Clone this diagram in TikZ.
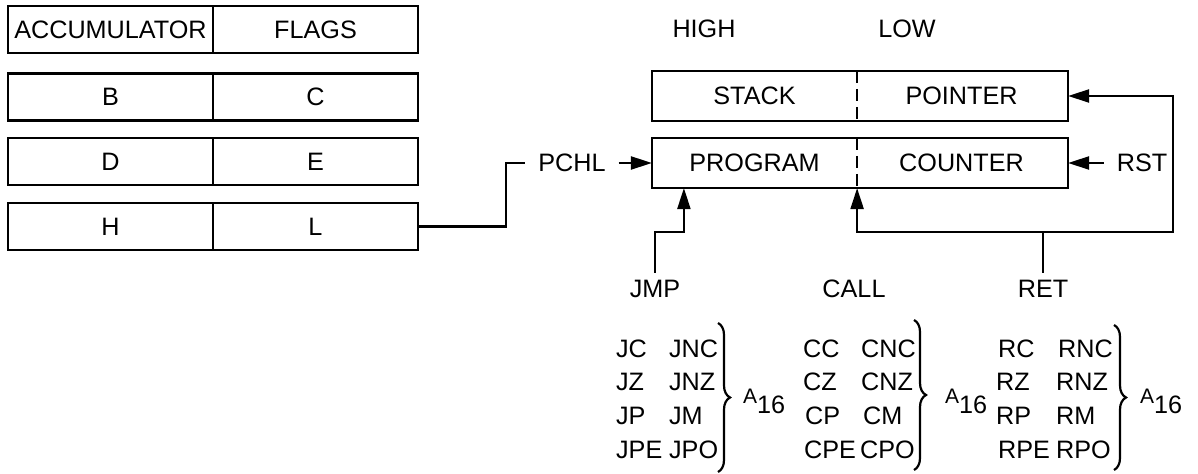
\documentclass[tikz,border=0pt]{standalone}
\usepackage{fontspec}
\setmainfont{Liberation Sans}
\usetikzlibrary{arrows.meta,decorations.pathreplacing,calc}
\begin{document}
\begin{tikzpicture}[x=0.5pt,y=-0.5pt, line width=1.1pt,
  every node/.style={font=\fontsize{12.6}{14}\selectfont},
  reg/.style={draw, minimum width=102.5pt, minimum height=23.5pt, inner sep=0pt},
  half/.style={minimum height=24pt, inner sep=0pt},
  arr/.style={-{Triangle[length=10.5pt,width=6.5pt]}},
  lbl/.style={anchor=base},
  mn/.style={anchor=base west, inner sep=0pt},
  br/.style={decorate, decoration={brace, amplitude=6pt}},
  sub/.style={anchor=base west, inner sep=0pt}]
\useasboundingbox (0,0) rectangle (1198,474);
% general registers
\node[reg] (acc) at (110.5,29.5) {ACCUMULATOR};
\node[reg] (flg) at (315.5,29.5) {FLAGS};
\node[reg] (rb) at (110.5,97) {B};
\node[reg] (rc) at (315.5,97) {C};
\node[reg] (rd) at (110.5,161.5) {D};
\node[reg] (re) at (315.5,161.5) {E};
\node[reg] (rh) at (110.5,226.5) {H};
\node[reg] (rl) at (315.5,226.5) {L};
% stack pointer and program counter
\node[lbl] (high) at (704,38) {HIGH};
\node[lbl] (low) at (907,38) {LOW};
\node[half, minimum width=101.5pt] (sph) at (754.5,96) {STACK};
\node[half, minimum width=105.5pt] (spl) at (961.5,96) {POINTER};
\draw (sph.north west) rectangle (spl.south east);
\draw[dash pattern=on 6pt off 3pt] (sph.north east) -- (sph.south east);
\node[half, minimum width=101.5pt] (pch) at (754.5,163) {PROGRAM};
\node[half, minimum width=105.5pt] (pcl) at (961.5,163) {COUNTER};
\draw (pch.north west) rectangle (pcl.south east);
\draw[dash pattern=on 6pt off 3pt] (pch.north east) -- (pch.south east);
% PCHL
\node[inner xsep=6pt, inner ysep=0pt] (pchl) at (572,163) {PCHL};
\draw (rl.east) -- ($(rl.east)+(87,0)$) |- (pchl.west);
\draw[arr] (pchl.east) -- (pch.west);
% RST
\node[inner xsep=6pt, inner ysep=0pt] (rst) at (1142,163) {RST};
\draw[arr] (rst.west) -- (pcl.east);
% JMP, CALL, RET
\node[lbl] (jmp) at (655,298) {JMP};
\node[lbl] (call) at (854,298) {CALL};
\node[lbl] (ret) at (1043,298) {RET};
\draw[arr] (jmp.north) |- ($(pch.south west)+(32,44)$) -- ($(pch.south west)+(32,0)$);
\coordinate (jn) at ($(ret.north)+(0,-41)$);
\draw (ret.north) -- (jn);
\draw[arr] (jn) -| (pch.south east);
\draw[arr] (jn) -- ++(130,0) |- (spl.east);
% conditional jumps
\node[mn] (jc) at (615,358) {JC};
\node[mn] (jnc) at (668,358) {JNC};
\node[mn] (jz) at (615,391) {JZ};
\node[mn] (jnz) at (668,391) {JNZ};
\node[mn] (jp) at (615,425) {JP};
\node[mn] (jm) at (668,425) {JM};
\node[mn] (jpe) at (615,459) {JPE};
\node[mn] (jpo) at (668,459) {JPO};
\draw[br] (718,323) -- (718,472);
\node[sub] (a1) at (742,404) {{\fontsize{10.5}{12}\selectfont A}\raisebox{-5pt}{16}};
% conditional calls
\node[mn] (cc) at (802,358) {CC};
\node[mn] (cnc) at (860,358) {CNC};
\node[mn] (cz) at (802,391) {CZ};
\node[mn] (cnz) at (860,391) {CNZ};
\node[mn] (cp) at (804,425) {CP};
\node[mn] (cm) at (862,425) {CM};
\node[mn] (cpe) at (803,459) {CPE};
\node[mn] (cpo) at (859,459) {CPO};
\draw[br] (914,320) -- (914,470);
\node[sub] (a2) at (944,404) {{\fontsize{10.5}{12}\selectfont A}\raisebox{-5pt}{16}};
% conditional returns
\node[mn] (rcn) at (997,358) {RC};
\node[mn] (rnc) at (1057,358) {RNC};
\node[mn] (rz) at (995,391) {RZ};
\node[mn] (rnz) at (1055,391) {RNZ};
\node[mn] (rp) at (995,425) {RP};
\node[mn] (rm) at (1055,425) {RM};
\node[mn] (rpe) at (997,459) {RPE};
\node[mn] (rpo) at (1055,459) {RPO};
\draw[br] (1114,325) -- (1114,470);
\node[sub] (a3) at (1139,404) {{\fontsize{10.5}{12}\selectfont A}\raisebox{-5pt}{16}};
\end{tikzpicture}
\end{document}
